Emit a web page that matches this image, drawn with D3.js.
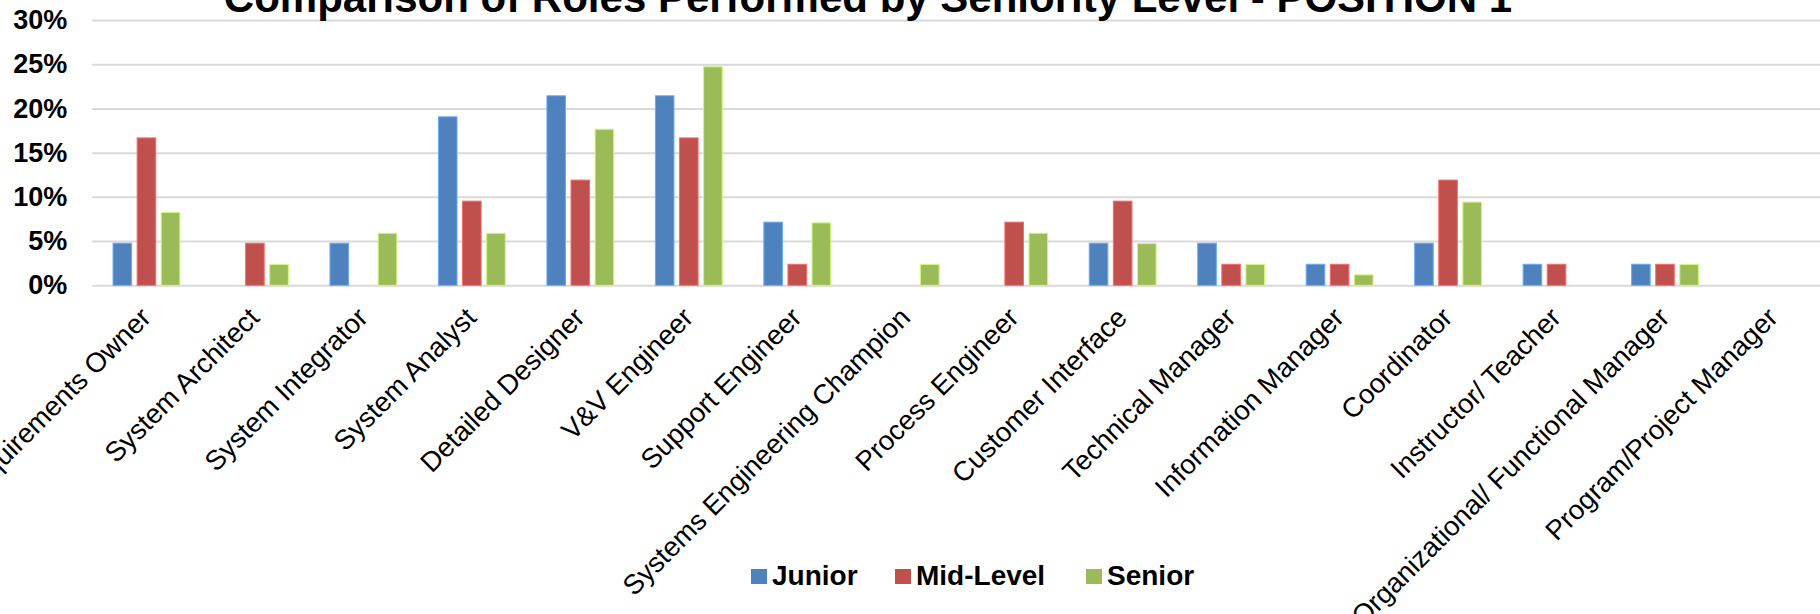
<!DOCTYPE html>
<html>
<head>
<meta charset="utf-8">
<script src="https://cdn.jsdelivr.net/npm/d3@7"></script>
<style>
    body { margin: 0; background: #fff; }
    svg { display: block; font-family: "Liberation Sans", Arial, sans-serif; }
</style>
</head>
<body>
<svg width="1820" height="614"></svg>
<script>
// Roles by seniority, values in percent
const categories = [
    "Requirements Owner", "System Architect", "System Integrator", "System Analyst",
    "Detailed Designer", "V&V Engineer", "Support Engineer", "Systems Engineering Champion",
    "Process Engineer", "Customer Interface", "Technical Manager", "Information Manager",
    "Coordinator", "Instructor/ Teacher", "Organizational/ Functional Manager", "Program/Project Manager"
];
const junior   = [4.76, 0, 4.76, 19.05, 21.43, 21.43, 7.14, 0, 0, 4.76, 4.76, 2.38, 4.76, 2.38, 2.38, 0];
const midLevel = [16.67, 4.76, 0, 9.52, 11.9, 16.67, 2.38, 0, 7.14, 9.52, 2.38, 2.38, 11.9, 2.38, 2.38, 0];
const senior   = [8.24, 2.35, 5.88, 5.88, 17.65, 24.71, 7.06, 2.35, 5.88, 4.71, 2.35, 1.18, 9.41, 0, 2.35, 0];

const seriesNames = ["Junior", "Mid-Level", "Senior"];
const seriesValues = [junior, midLevel, senior];
const colors = ["#4F81BD", "#C0504D", "#9BBB59"];
const yTicks = [0, 5, 10, 15, 20, 25, 30];

const title = "Comparison of Roles Performed by Seniority Level - POSITION 1";

const svg = d3.select("svg");
const plotLeft = 92.2, plotRight = 1827.7, plotTop = 20, plotBottom = 285.3;

const x = d3.scaleBand()
    .domain(categories)
    .range([plotLeft, plotRight]);

const groupW = x.bandwidth() * 0.616;
const x1 = d3.scaleBand()
    .domain(seriesNames)
    .range([0, groupW])
    .paddingInner(0.228);

const y = d3.scaleLinear()
    .domain([0, 30])
    .range([plotBottom, plotTop]);

const color = d3.scaleOrdinal().domain(seriesNames).range(colors);

// gridlines + y labels
const yAxis = svg.append("g")
    .attr("transform", `translate(${plotLeft},0)`)
    .call(d3.axisLeft(y).tickValues(yTicks).tickSize(-(plotRight - plotLeft)).tickPadding(25).tickFormat(d => d + "%"));
yAxis.select(".domain").remove();
yAxis.selectAll(".tick line").attr("stroke", "#D9D9D9").attr("stroke-width", 2);
yAxis.selectAll(".tick text")
    .attr("fill", "#000")
    .style("font-size", "27px")
    .style("font-weight", "bold");

// category labels, rotated
const xAxis = svg.append("g")
    .attr("transform", `translate(0,${plotBottom})`)
    .call(d3.axisBottom(x).tickSize(0));
xAxis.select(".domain").remove();
xAxis.selectAll(".tick text")
    .attr("x", 0).attr("y", 0).attr("dy", 0)
    .attr("text-anchor", "end")
    .attr("transform", "translate(6,34) rotate(-45)")
    .attr("fill", "#000")
    .style("font-size", "27.5px");

// bars
const rows = categories.map((c, i) => ({ cat: c, vals: seriesNames.map((s, j) => ({ key: s, value: seriesValues[j][i] })) }));

const groups = svg.append("g").selectAll("g")
    .data(rows)
    .enter().append("g")
    .attr("transform", d => `translate(${x(d.cat) + (x.bandwidth() - groupW) / 2},0)`);

groups.selectAll("rect")
    .data(d => d.vals.filter(v => v.value > 0))
    .enter().append("rect")
    .attr("x", d => x1(d.key))
    .attr("y", d => y(d.value))
    .attr("width", x1.bandwidth())
    .attr("height", d => plotBottom - y(d.value))
    .attr("fill", d => color(d.key))
    .attr("stroke", d => d3.color(color(d.key)).brighter(0.8))
    .attr("stroke-width", 1);

// title (partly cut off at top like the original)
svg.append("text")
    .attr("x", 868)
    .attr("y", 12)
    .attr("text-anchor", "middle")
    .style("font-size", "42px")
    .style("font-weight", "bold")
    .text(title);

// legend
const legendPos = [751, 895, 1086];
const legend = svg.append("g").selectAll("g")
    .data(seriesNames)
    .enter().append("g")
    .attr("transform", (d, i) => `translate(${legendPos[i]},569)`);

legend.append("rect")
    .attr("width", 16)
    .attr("height", 15)
    .attr("fill", d => color(d));

legend.append("text")
    .attr("x", 21)
    .attr("y", 16)
    .style("font-size", "28px")
    .style("font-weight", "bold")
    .text(d => d);
</script>
</body>
</html>
